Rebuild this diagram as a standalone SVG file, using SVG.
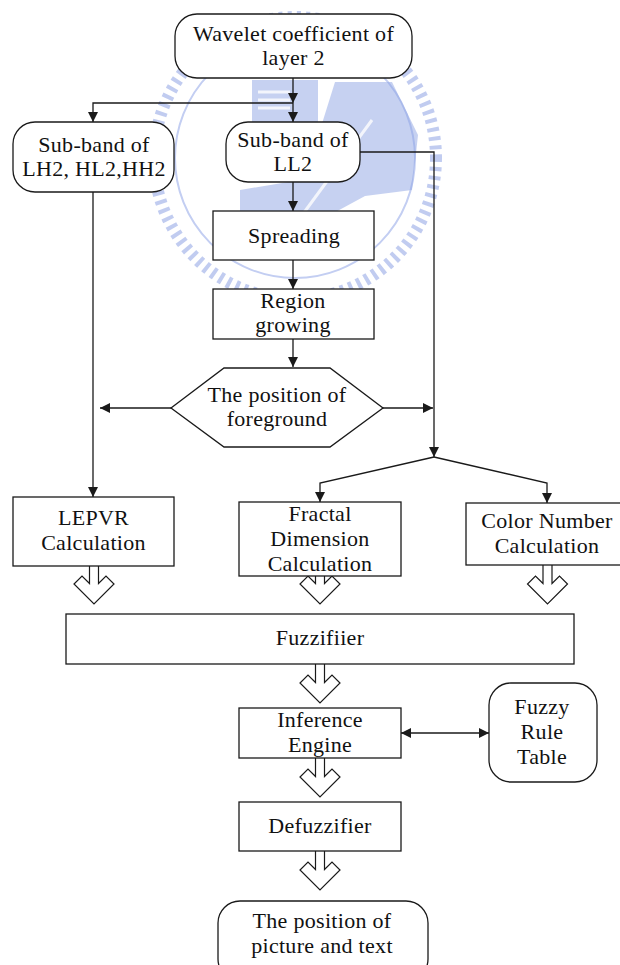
<svg xmlns="http://www.w3.org/2000/svg" width="620" height="965" viewBox="0 0 620 965">
  <defs>
    <style>
      .box { fill: #ffffff; stroke: #1a1a1a; stroke-width: 1.3; }
      .line { fill: none; stroke: #1a1a1a; stroke-width: 1.3; }
      .hollow { fill: #ffffff; stroke: #1a1a1a; stroke-width: 1.2; stroke-linejoin: miter; }
      .label { font-family: "Liberation Serif", "Times New Roman", serif; font-size: 22px; letter-spacing: 0.3px; text-anchor: middle; fill: #111111; }
      .wm { fill: #8ea3e4; opacity: 0.5; }
      .wm-stripe { stroke: #ffffff; stroke-width: 3; opacity: 0.8; }
    </style>
    <marker id="arrow" viewBox="0 0 10 10" markerUnits="userSpaceOnUse" markerWidth="10" markerHeight="10" refX="10" refY="5" orient="auto-start-reverse">
      <path d="M0,0 L10,5 L0,10 z" fill="#1a1a1a"/>
    </marker>
  </defs>

  <rect width="620" height="965" fill="#ffffff"/>

  <!-- faint seal in the background -->
  <g id="seal">
    <circle cx="295" cy="158" r="141" fill="none" stroke="#8ea3e4" stroke-width="12" stroke-dasharray="4 5" opacity="0.55"/>
    <circle cx="295" cy="158" r="120" fill="none" stroke="#c3cef2" stroke-width="2"/>
    <rect class="wm" x="252" y="80" width="66" height="44"/>
    <line class="wm-stripe" x1="258" y1="92" x2="290" y2="92"/>
    <line class="wm-stripe" x1="258" y1="100" x2="290" y2="100"/>
    <line class="wm-stripe" x1="258" y1="108" x2="290" y2="108"/>
    <path class="wm" d="M335,82 L392,82 L418,135 L412,190 L365,196 L330,215 L240,222 L240,190 L300,180 L320,130 Z"/>
    <line class="wm-stripe" x1="300" y1="218" x2="372" y2="120"/>
  </g>

  <!-- connectors -->
  <g id="connectors">
    <path class="line" d="M293,78 V103" marker-end="url(#arrow)"/>
    <path class="line" d="M293,103 V122" marker-end="url(#arrow)"/>
    <path class="line" d="M293,103 H93 V122" marker-end="url(#arrow)"/>
    <path class="line" d="M293,182 V211" marker-end="url(#arrow)"/>
    <path class="line" d="M293,260 V289" marker-end="url(#arrow)"/>
    <path class="line" d="M293,339 V367" marker-end="url(#arrow)"/>
    <path class="line" d="M171,408 H100" marker-end="url(#arrow)"/>
    <path class="line" d="M383,408 H433" marker-end="url(#arrow)"/>
    <path class="line" d="M360,152 H434 V457" marker-end="url(#arrow)"/>
    <path class="line" d="M434,457 L320,483 V502" marker-end="url(#arrow)"/>
    <path class="line" d="M434,457 L547,483 V503" marker-end="url(#arrow)"/>
    <path class="line" d="M93,192 V497" marker-end="url(#arrow)"/>
    <path class="line" d="M401,733 H489" marker-start="url(#arrow)" marker-end="url(#arrow)"/>

    <!-- hollow block arrows -->
    <path class="hollow" d="M89.5,566 V583.5 L82,576 L74,584 L94,604 L114,584 L106,576 L98.5,583.5 V566"/>
    <path class="hollow" d="M315.5,576 V583.5 L308,576 L300,584 L320,604 L340,584 L332,576 L324.5,583.5 V576"/>
    <path class="hollow" d="M543,565 V583.5 L535.5,576 L527.5,584 L547.5,604 L567.5,584 L559.5,576 L552,583.5 V565"/>
    <path class="hollow" d="M315.5,664 V682.5 L308,675 L300,683 L320,703 L340,683 L332,675 L324.5,682.5 V664"/>
    <path class="hollow" d="M315.5,758 V776.5 L308,769 L300,777 L320,797 L340,777 L332,769 L324.5,776.5 V758"/>
    <path class="hollow" d="M315.5,851 V869.5 L308,862 L300,870 L320,890 L340,870 L332,862 L324.5,869.5 V851"/>
  </g>

  <!-- nodes -->
  <g id="wavelet">
    <rect class="box" x="175" y="14" width="237" height="64" rx="22"/>
    <text class="label" x="293.5" y="41">Wavelet coefficient of</text>
    <text class="label" x="293.5" y="65">layer 2</text>
  </g>
  <g id="subband-high">
    <rect class="box" x="13" y="122" width="161" height="70" rx="22"/>
    <text class="label" x="94" y="152">Sub-band of</text>
    <text class="label" x="94" y="176">LH2, HL2,HH2</text>
  </g>
  <g id="subband-ll2">
    <rect class="box" x="226" y="122" width="134" height="60" rx="22"/>
    <text class="label" x="293" y="147">Sub-band of</text>
    <text class="label" x="293" y="171">LL2</text>
  </g>
  <g id="spreading">
    <rect class="box" x="213" y="211" width="161" height="49"/>
    <text class="label" x="294" y="243">Spreading</text>
  </g>
  <g id="region-growing">
    <rect class="box" x="213" y="289" width="161" height="50"/>
    <text class="label" x="293" y="308">Region</text>
    <text class="label" x="293" y="332">growing</text>
  </g>
  <g id="foreground">
    <polygon class="box" points="171,408 224,368 330,368 383,408 330,447 224,447"/>
    <text class="label" x="277" y="402">The position of</text>
    <text class="label" x="277" y="426">foreground</text>
  </g>
  <g id="lepvr">
    <rect class="box" x="13" y="497" width="161" height="69"/>
    <text class="label" x="93.5" y="525">LEPVR</text>
    <text class="label" x="93.5" y="550">Calculation</text>
  </g>
  <g id="fractal">
    <rect class="box" x="239" y="502" width="162" height="74"/>
    <text class="label" x="320" y="521">Fractal</text>
    <text class="label" x="320" y="546">Dimension</text>
    <text class="label" x="320" y="571">Calculation</text>
  </g>
  <g id="color-number">
    <rect class="box" x="466" y="503" width="170" height="62"/>
    <text class="label" x="547" y="528">Color Number</text>
    <text class="label" x="547" y="553">Calculation</text>
  </g>
  <g id="fuzzifier">
    <rect class="box" x="66" y="614" width="508" height="50"/>
    <text class="label" x="320" y="645">Fuzzifiier</text>
  </g>
  <g id="inference">
    <rect class="box" x="239" y="708" width="162" height="50"/>
    <text class="label" x="320" y="727">Inference</text>
    <text class="label" x="320" y="752">Engine</text>
  </g>
  <g id="rule-table">
    <rect class="box" x="489" y="683" width="108" height="99" rx="22"/>
    <text class="label" x="542" y="714">Fuzzy</text>
    <text class="label" x="542" y="739">Rule</text>
    <text class="label" x="542" y="764">Table</text>
  </g>
  <g id="defuzzifier">
    <rect class="box" x="239" y="802" width="162" height="49"/>
    <text class="label" x="320" y="833">Defuzzifier</text>
  </g>
  <g id="result">
    <rect class="box" x="218" y="901" width="210" height="80" rx="22"/>
    <text class="label" x="322" y="928">The position of</text>
    <text class="label" x="322" y="953">picture and text</text>
  </g>
</svg>
